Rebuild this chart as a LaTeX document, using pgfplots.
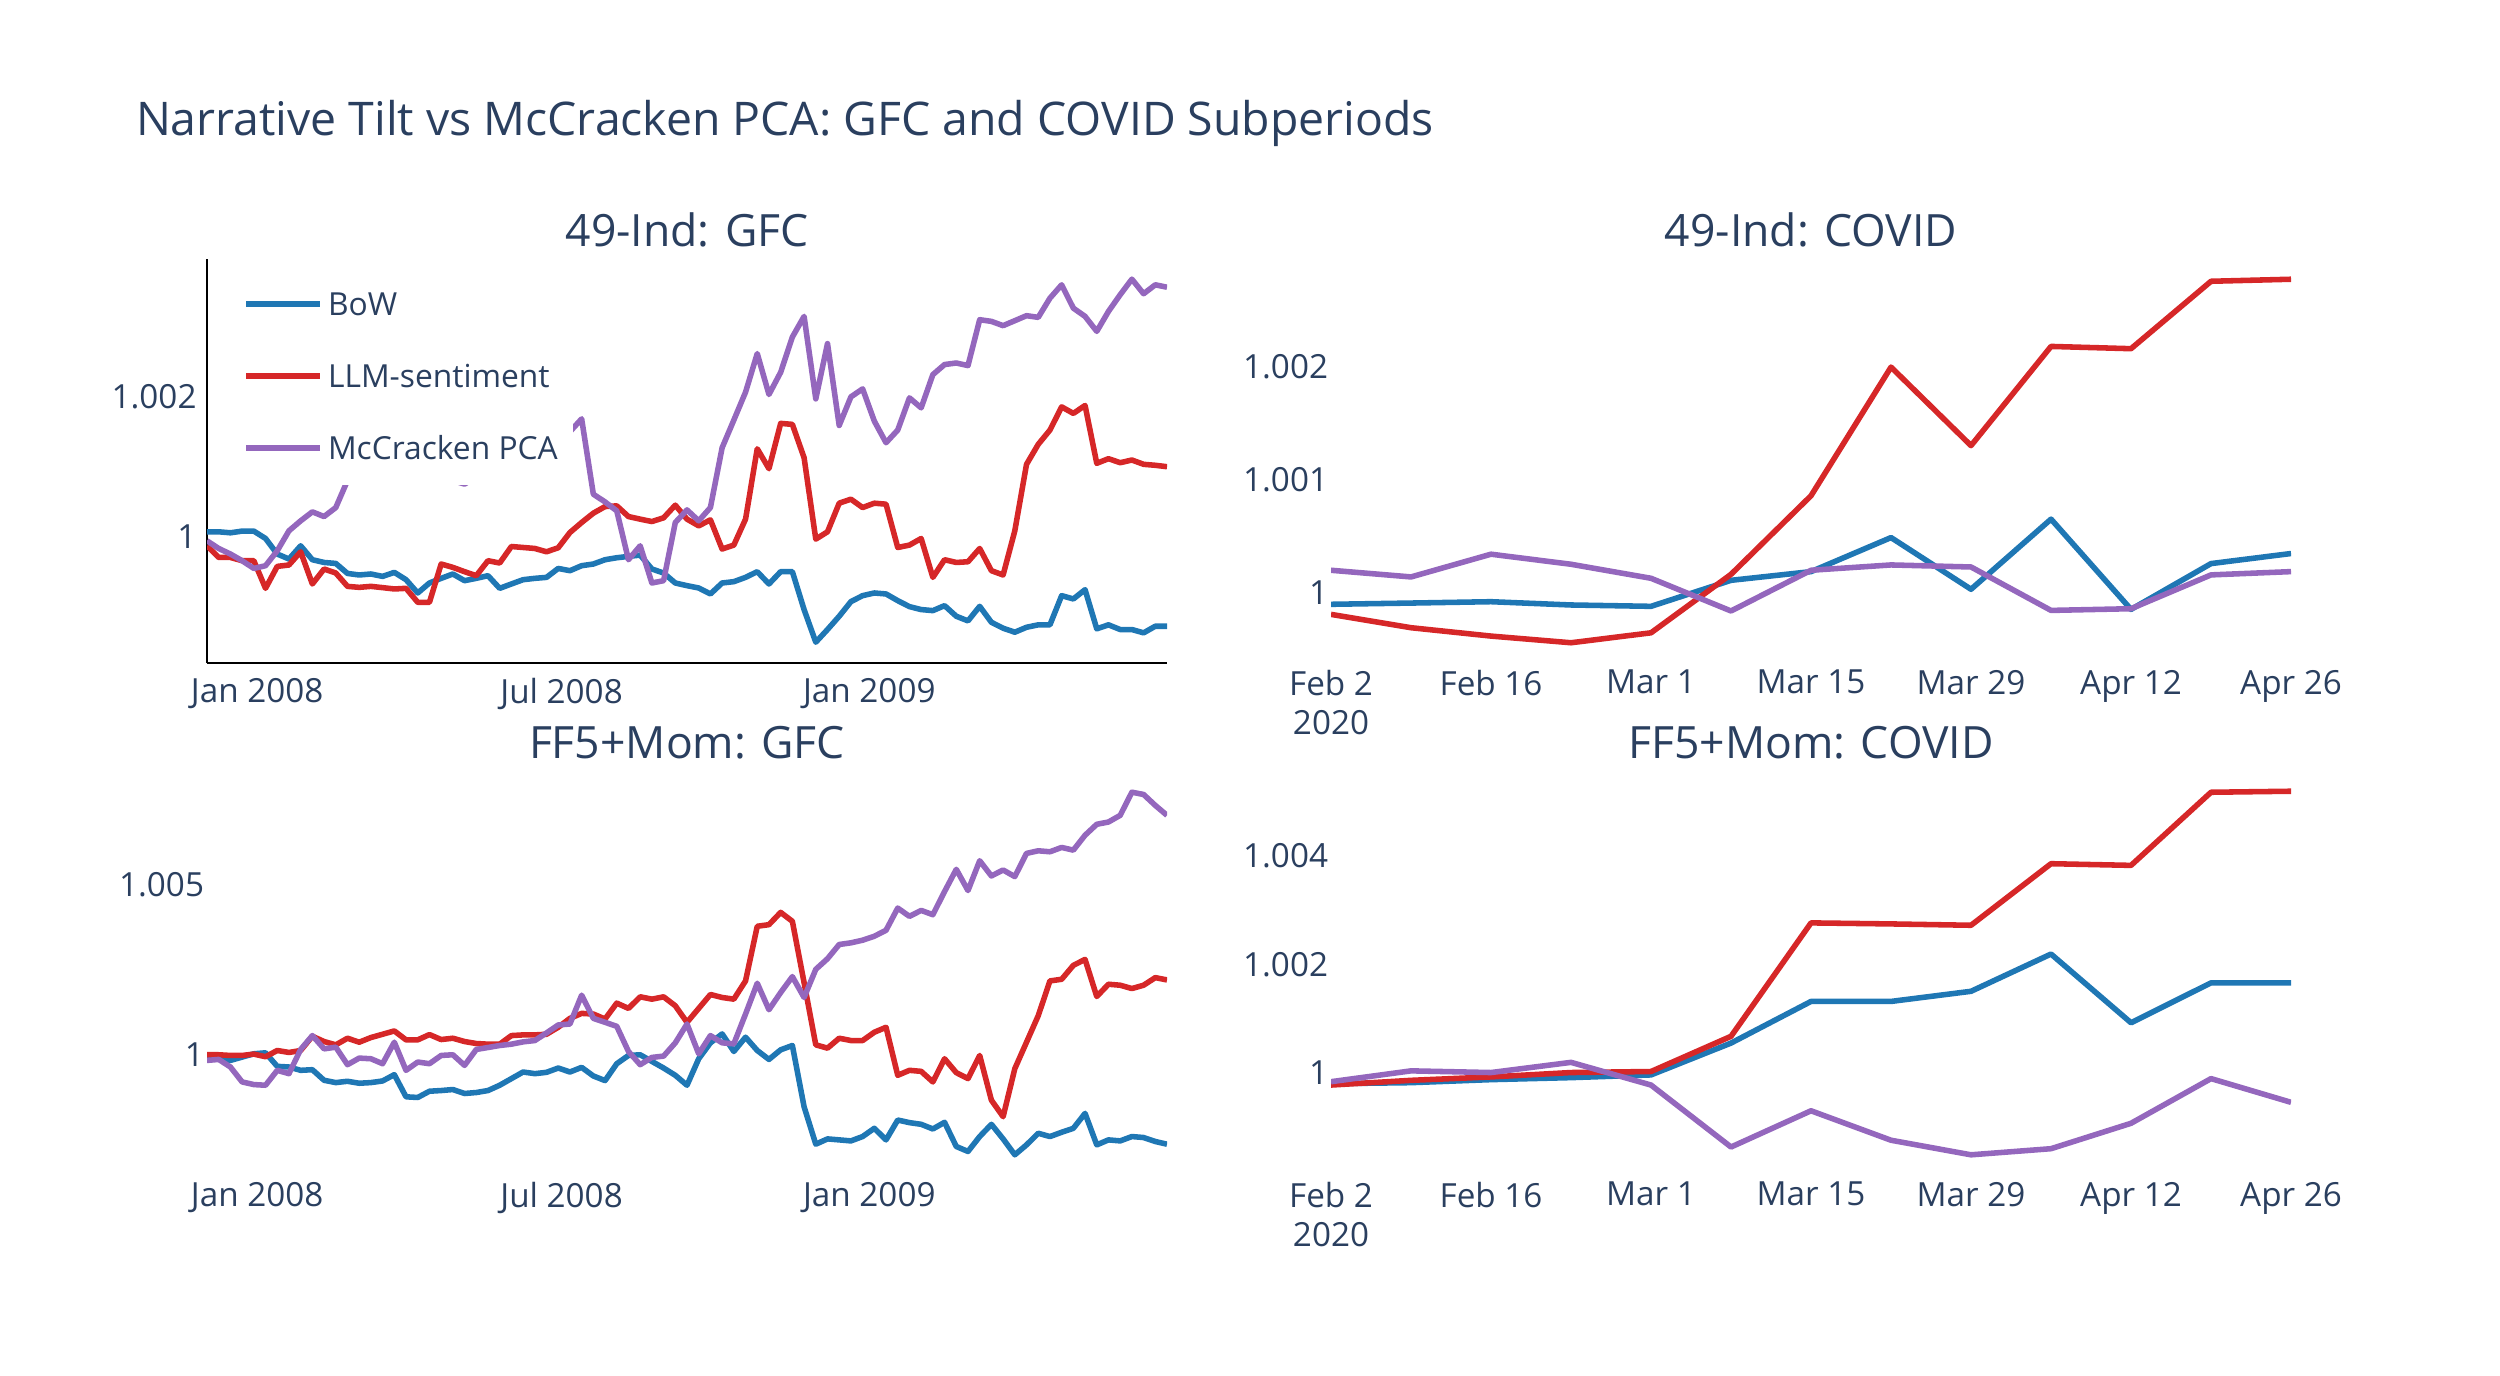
\documentclass[border=0pt]{standalone}
\usepackage{fontspec}
\setmainfont{Open Sans}
\usepackage{pgfplots}
\pgfplotsset{compat=1.18}
\usepackage{pgfplotstable}
\definecolor{txt}{HTML}{2A3F5F}
\definecolor{cbow}{HTML}{1F77B4}
\definecolor{cllm}{HTML}{D62728}
\definecolor{cpca}{HTML}{9467BD}

\pgfplotstableread{
k bow llm pca
0 1.000071 0.999872 0.999943
1 1.000071 0.999706 0.999834
2 1.000057 0.999706 0.999755
3 1.000081 0.999660 0.999660
4 1.000081 0.999660 0.999550
5 0.999976 0.999267 0.999589
6 0.999755 0.999579 0.999801
7 0.999684 0.999599 1.000085
8 0.999872 0.999787 1.000227
9 0.999674 0.999329 1.000355
10 0.999635 0.999542 1.000288
11 0.999621 0.999485 1.000416
12 0.999479 0.999295 1.000800
13 0.999457 0.999281 1.001200
14 0.999471 0.999295 1.001100
15 0.999437 0.999277 1.001350
16 0.999494 0.999258 1.001250
17 0.999390 0.999267 1.001100
18 0.999201 0.999068 1.001000
19 0.999343 0.999068 1.000900
20 0.999409 0.999613 1.000850
21 0.999471 0.999565 1.000800
22 0.999376 0.999504 1.000750
23 0.999409 0.999447 1.000850
24 0.999447 0.999660 1.000950
25 0.999267 0.999627 1.001050
26 0.999329 0.999862 1.001200
27 0.999390 0.999848 1.001300
28 0.999409 0.999834 1.001250
29 0.999423 0.999787 1.001400
30 0.999550 0.999844 1.001450
31 0.999518 1.000061 1.001494
32 0.999589 1.000203 1.001678
33 0.999613 1.000336 1.000606
34 0.999674 1.000430 1.000496
35 0.999702 1.000440 1.000369
36 0.999721 1.000288 0.999674
37 0.999740 1.000251 0.999872
38 0.999542 1.000217 0.999343
39 0.999485 1.000270 0.999376
40 0.999343 1.000450 1.000203
41 0.999305 1.000251 1.000383
42 0.999272 1.000156 1.000227
43 0.999187 1.000241 1.000416
44 0.999343 0.999826 1.001267
45 0.999362 0.999882 1.001660
46 0.999423 1.000251 1.002057
47 0.999504 1.001252 1.002606
48 0.999329 1.000969 1.002024
49 0.999504 1.001613 1.002340
50 0.999504 1.001599 1.002841
51 0.998965 1.001125 1.003135
52 0.998501 0.999967 1.001962
53 0.998681 1.000071 1.002748
54 0.998870 1.000478 1.001584
55 0.999078 1.000535 1.001990
56 0.999163 1.000416 1.002104
57 0.999201 1.000478 1.001645
58 0.999187 1.000464 1.001338
59 0.999092 0.999848 1.001518
60 0.999007 0.999882 1.001976
61 0.998965 0.999976 1.001834
62 0.998950 0.999423 1.002307
63 0.999021 0.999674 1.002450
64 0.998870 0.999635 1.002472
65 0.998804 0.999645 1.002435
66 0.999011 0.999834 1.003088
67 0.998784 0.999518 1.003064
68 0.998700 0.999457 1.003003
69 0.998643 1.000085 1.003074
70 0.998713 1.001031 1.003145
71 0.998748 1.001315 1.003121
72 0.998748 1.001518 1.003394
73 0.999163 1.001848 1.003584
74 0.999116 1.001755 1.003252
75 0.999248 1.001868 1.003135
76 0.998691 1.001045 1.002922
77 0.998748 1.001111 1.003206
78 0.998681 1.001054 1.003443
79 0.998681 1.001092 1.003664
80 0.998634 1.001031 1.003457
81 0.998728 1.001017 1.003584
82 0.998728 1.000997 1.003550
}\tlgfc

\pgfplotstableread{
k bow llm pca
0 0.999932 1.000000 0.999834
1 0.999902 1.000000 0.999863
2 0.999834 0.999980 0.999640
3 0.999932 0.999980 0.999201
4 1.000029 1.000020 0.999123
5 1.000058 0.999942 0.999103
6 0.999659 1.000126 0.999542
7 0.999640 1.000068 0.999444
8 0.999542 1.000126 1.000156
9 0.999561 1.000546 1.000565
10 0.999249 1.000390 1.000175
11 0.999181 1.000292 1.000224
12 0.999220 1.000487 0.999708
13 0.999162 1.000370 0.999902
14 0.999181 1.000507 0.999883
15 0.999230 1.000604 0.999737
16 0.999415 1.000702 1.000370
17 0.998763 1.000439 0.999542
18 0.998743 1.000439 0.999786
19 0.998927 1.000595 0.999737
20 0.998947 1.000448 0.999980
21 0.998977 1.000487 1.000000
22 0.998860 1.000390 0.999688
23 0.998889 1.000331 1.000156
24 0.998947 1.000312 1.000214
25 0.999103 1.000312 1.000273
26 0.999298 1.000565 1.000312
27 0.999493 1.000585 1.000380
28 0.999444 1.000585 1.000419
29 0.999483 1.000604 1.000643
30 0.999610 1.000809 1.000877
31 0.999493 1.001072 1.000906
32 0.999629 1.001218 1.001754
33 0.999376 1.001199 1.001072
34 0.999240 1.001053 1.000955
35 0.999737 1.001520 1.000838
36 0.999980 1.001365 1.000097
37 1.000000 1.001706 0.999708
38 0.999805 1.001637 0.999922
39 0.999610 1.001706 0.999961
40 0.999396 1.001442 1.000351
41 0.999103 1.000955 1.000906
42 0.999883 1.001365 1.000029
43 1.000351 1.001774 1.000565
44 1.000614 1.001686 1.000351
45 1.000097 1.001637 1.000322
46 1.000517 1.002174 1.001199
47 1.000126 1.003782 1.002105
48 0.999863 1.003830 1.001326
49 1.000146 1.004191 1.001832
50 1.000273 1.003928 1.002300
51 0.998470 1.002125 1.001686
52 0.997368 1.000292 1.002515
53 0.997524 1.000195 1.002827
54 0.997495 1.000487 1.003246
55 0.997465 1.000419 1.003295
56 0.997593 1.000419 1.003372
57 0.997836 1.000663 1.003489
58 0.997495 1.000809 1.003665
59 0.998079 0.999396 1.004318
60 0.998003 0.999542 1.004074
61 0.997953 0.999512 1.004249
62 0.997816 0.999201 1.004123
63 0.998012 0.999883 1.004805
64 0.997301 0.999474 1.005458
65 0.997154 0.999298 1.004834
66 0.997593 0.999980 1.005711
67 0.997953 0.998664 1.005263
68 0.997524 0.998177 1.005439
69 0.997056 0.999591 1.005244
70 0.997348 1.000370 1.005927
71 0.997690 1.001150 1.006004
72 0.997593 1.002174 1.005975
73 0.997719 1.002222 1.006102
74 0.997836 1.002632 1.006023
75 0.998275 1.002807 1.006462
76 0.997348 1.001715 1.006784
77 0.997495 1.002076 1.006851
78 0.997465 1.002047 1.007047
79 0.997593 1.001949 1.007728
80 0.997564 1.002047 1.007661
81 0.997447 1.002271 1.007339
82 0.997368 1.002203 1.007047
}\blgfc

\pgfplotstableread{
k bow llm pca
0 0.999897 0.999808 1.000198
1 0.999908 0.999690 1.000139
2 0.999920 0.999616 1.000340
3 0.999891 0.999557 1.000251
4 0.999879 0.999645 1.000127
5 1.000109 1.000162 0.999838
6 1.000186 1.000857 1.000198
7 1.000487 1.001994 1.000245
8 1.000030 1.001300 1.000227
9 1.000650 1.002177 0.999843
10 0.999852 1.002157 0.999858
11 1.000257 1.002753 1.000157
12 1.000346 1.002771 1.000186
}\trcovid

\pgfplotstableread{
k bow llm pca
0 0.999794 0.999769 0.999831
1 0.999813 0.999856 1.000031
2 0.999869 0.999919 1.000000
3 0.999906 1.000000 1.000188
4 0.999956 1.000019 0.999769
5 1.000544 1.000669 0.998625
6 1.001313 1.002763 0.999294
7 1.001313 1.002744 0.998750
8 1.001500 1.002719 0.998481
9 1.002188 1.003856 0.998594
10 1.000919 1.003825 0.999063
11 1.001656 1.005175 0.999888
12 1.001656 1.005194 0.999450
}\brcovid

\pgfplotsset{
  panel/.style={
    scale only axis, width=384pt, height=161.6pt,
    axis line style={draw=none}, major tick length=0pt, tick style={draw=none},
    ticklabel style={font=\fontsize{13.3}{15.5}\selectfont, text=txt},
    yticklabel style={anchor=east, inner sep=0pt, xshift=-1pt},
    xticklabel style={anchor=north, inner sep=0pt, align=center},
    title style={font=\fontsize{17.8}{20}\selectfont, text=txt, at={(0.5,1)}, anchor=base, yshift=-1pt, inner sep=0pt},
    every axis plot/.append style={line width=2.22pt, line join=round, no markers},
  },
  gfcx/.style={xmin=0, xmax=82, xtick={4.2857,30.2857,56.5714}, xticklabels={Jan 2008,Jul 2008,Jan 2009}},
  covx/.style={xmin=0, xmax=12, xtick={0,2,4,6,8,10,12}, xticklabels={{Feb 2\\2020},Feb 16,Mar 1,Mar 15,Mar 29,Apr 12,Apr 26}},
}

\begin{document}
\begin{tikzpicture}
\path[use as bounding box] (0,0) rectangle (1000pt,550pt);
\node[anchor=base west, inner sep=0pt, font=\fontsize{18.55}{22}\selectfont, text=txt] at (54.2pt,495.6pt) {Narrative Tilt vs McCracken PCA: GFC and COVID Subperiods};

% top left
\begin{axis}[panel, gfcx, at={(82.8pt,284.8pt)}, anchor=south west,
  ymin=0.998205, ymax=1.003951, ytick={1,1.002}, yticklabels={1,1.002},
  title={49-Ind: GFC},
  axis x line*=bottom, axis y line*=left,
  axis line style={draw=black, line width=1.11pt, -},
  xticklabel style={yshift=-6pt}, yticklabel style={xshift=-3pt},
  legend cell align=left,
  legend image code/.code={\draw[#1, line width=2.22pt] (0pt,0pt) -- (29.6pt,0pt);},
  legend style={at={(axis description cs:0.0375,0.9174)}, anchor=north west, draw=none, fill=none,
    inner sep=0pt, row sep=19.6pt, column sep=2pt,
    font=\fontsize{12.7}{15}\selectfont, text=txt,
    nodes={inner sep=0pt, text height=9.1pt, text depth=0pt}},
]
\addplot[cbow] table[x=k,y=bow]{\tlgfc}; \addlegendentry{BoW}
\addplot[cllm] table[x=k,y=llm]{\tlgfc}; \addlegendentry{LLM-sentiment}
\addplot[cpca] table[x=k,y=pca]{\tlgfc}; \addlegendentry{McCracken PCA}
\fill[white] (axis description cs:0.0219,0.4406) rectangle (axis description cs:0.3813,0.975);
\end{axis}

% top right
\begin{axis}[panel, covx, at={(532.4pt,284.8pt)}, anchor=south west,
  ymin=0.999378, ymax=1.00295, ytick={1,1.001,1.002}, yticklabels={1,1.001,1.002},
  title={49-Ind: COVID}, xticklabel style={yshift=-2.7pt}]
\addplot[cbow] table[x=k,y=bow]{\trcovid};
\addplot[cllm] table[x=k,y=llm]{\trcovid};
\addplot[cpca] table[x=k,y=pca]{\trcovid};
\end{axis}

% bottom left
\begin{axis}[panel, gfcx, at={(82.8pt,80pt)}, anchor=south west,
  ymin=0.996461, ymax=1.008352, ytick={1,1.005}, yticklabels={1,1.005},
  title={FF5+Mom: GFC}, xticklabel style={yshift=-2.8pt}]
\addplot[cbow] table[x=k,y=bow]{\blgfc};
\addplot[cllm] table[x=k,y=llm]{\blgfc};
\addplot[cpca] table[x=k,y=pca]{\blgfc};
\end{axis}

% bottom right
\begin{axis}[panel, covx, at={(532.4pt,80pt)}, anchor=south west,
  ymin=0.998108, ymax=1.005567, ytick={1,1.002,1.004}, yticklabels={1,1.002,1.004},
  title={FF5+Mom: COVID}, xticklabel style={yshift=-2.6pt}]
\addplot[cbow] table[x=k,y=bow]{\brcovid};
\addplot[cllm] table[x=k,y=llm]{\brcovid};
\addplot[cpca] table[x=k,y=pca]{\brcovid};
\end{axis}
\end{tikzpicture}
\end{document}
